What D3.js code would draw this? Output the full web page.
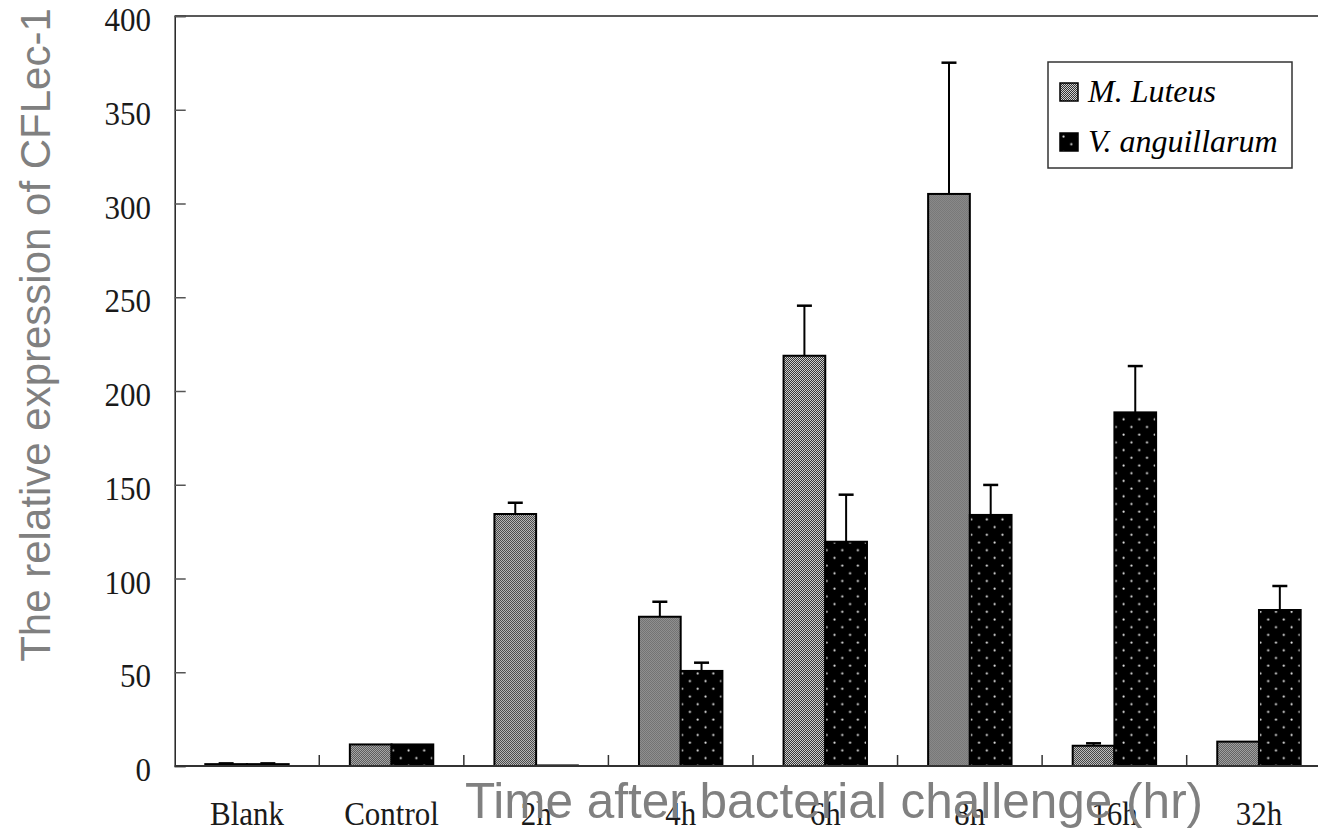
<!DOCTYPE html>
<html>
<head>
<meta charset="utf-8">
<script src="https://cdn.jsdelivr.net/npm/d3@7/dist/d3.min.js"></script>
<style>
  html, body { margin: 0; padding: 0; background: #fff; }
  svg { display: block; }
</style>
</head>
<body>
<svg id="chart" width="1318" height="831"></svg>
<script>
// Relative expression of CFLec-1 after bacterial challenge
const categories = ["Blank", "Control", "2h", "4h", "6h", "8h", "16h", "32h"];
const seriesNames = ["M. Luteus", "V. anguillarum"];
const luteusValues = [1, 11.5, 134.4, 79.6, 218.8, 305.1, 10.8, 13.0];
const luteusErrors = [0.4, 0, 6, 8, 26.7, 70, 1.3, 0];
const anguillarumValues = [1, 11.5, 0.3, 50.7, 119.6, 133.9, 188.6, 83.2];
const anguillarumErrors = [0.4, 0, 0, 4.4, 25.1, 16, 24.7, 12.8];
const yTicks = [0, 50, 100, 150, 200, 250, 300, 350, 400];
const yTitle = "The relative expression of CFLec-1";
const xTitle = "Time after bacterial challenge (hr)";

const W = 1318, H = 831;
const plot = { left: 174.7, top: 16, bottom: 766, step: 144.57 };
plot.right = plot.left + plot.step * categories.length;

const svg = d3.select("#chart");
const defs = svg.append("defs");

// fine grey checker fill
const checker = defs.append("pattern")
  .attr("id", "checker").attr("patternUnits", "userSpaceOnUse")
  .attr("width", 2).attr("height", 2);
checker.append("rect").attr("width", 2).attr("height", 2).attr("fill", "#cfcfcf");
checker.append("rect").attr("width", 1).attr("height", 1).attr("fill", "#333");
checker.append("rect").attr("x", 1).attr("y", 1).attr("width", 1).attr("height", 1).attr("fill", "#333");

// black fill with staggered white dots
const dots = defs.append("pattern")
  .attr("id", "dots").attr("patternUnits", "userSpaceOnUse")
  .attr("width", 15.6).attr("height", 15.4);
dots.append("rect").attr("width", 15.6).attr("height", 15.4).attr("fill", "#000");
dots.append("circle").attr("cx", 3.5).attr("cy", 3.5).attr("r", 1.1).attr("fill", "#e6e6e6");
dots.append("circle").attr("cx", 11.3).attr("cy", 11.2).attr("r", 1.1).attr("fill", "#e6e6e6");

const fills = ["url(#checker)", "url(#dots)"];

const x = d3.scaleBand().domain(categories)
  .range([plot.left, plot.right]).paddingInner(0).paddingOuter(0);
const xSub = d3.scaleBand().domain(seriesNames)
  .range([0, x.bandwidth()]).paddingInner(0).paddingOuter(0.733);
const y = d3.scaleLinear().domain([0, 400]).range([plot.bottom, plot.top]);

const rows = categories.map((c, i) => ({
  cat: c,
  bars: [
    { s: seriesNames[0], v: luteusValues[i], e: luteusErrors[i], k: 0 },
    { s: seriesNames[1], v: anguillarumValues[i], e: anguillarumErrors[i], k: 1 }
  ]
}));

// plot frame top edge
svg.append("line")
  .attr("x1", plot.left).attr("x2", W)
  .attr("y1", plot.top).attr("y2", plot.top)
  .attr("stroke", "#222").attr("stroke-width", 1.5);

// bars
const groups = svg.append("g").selectAll("g").data(rows).join("g")
  .attr("transform", d => `translate(${x(d.cat)},0)`);

groups.selectAll("line.err").data(d => d.bars.filter(b => b.e > 0)).join("line")
  .attr("class", "err")
  .attr("x1", b => xSub(b.s) + xSub.bandwidth() / 2)
  .attr("x2", b => xSub(b.s) + xSub.bandwidth() / 2)
  .attr("y1", b => y(b.v)).attr("y2", b => y(b.v + b.e))
  .attr("stroke", "#000").attr("stroke-width", 2);
groups.selectAll("line.cap").data(d => d.bars.filter(b => b.e > 0)).join("line")
  .attr("class", "cap")
  .attr("x1", b => xSub(b.s) + xSub.bandwidth() / 2 - 7.5)
  .attr("x2", b => xSub(b.s) + xSub.bandwidth() / 2 + 7.5)
  .attr("y1", b => y(b.v + b.e)).attr("y2", b => y(b.v + b.e))
  .attr("stroke", "#000").attr("stroke-width", 2.5);

groups.selectAll("rect").data(d => d.bars).join("rect")
  .attr("x", b => xSub(b.s))
  .attr("y", b => y(b.v))
  .attr("width", xSub.bandwidth())
  .attr("height", b => y(0) - y(b.v))
  .attr("fill", b => fills[b.k])
  .attr("stroke", "#000").attr("stroke-width", 2);

// y axis with inward ticks
const yAxis = svg.append("g")
  .attr("transform", `translate(${plot.left},0)`)
  .call(d3.axisRight(y).tickValues(yTicks).tickSize(11).tickFormat(""));
yAxis.select(".domain").attr("stroke", "#222").attr("stroke-width", 1.5);
yAxis.selectAll(".tick line").attr("stroke", "#555").attr("stroke-width", 1.5);

// tall, narrow serif numerals
svg.append("g").selectAll("text").data(yTicks).join("text")
  .attr("transform", d => `translate(151,${y(d) + 15}) scale(1,1.12)`)
  .attr("text-anchor", "end")
  .attr("font-family", "Liberation Serif, serif")
  .attr("font-size", 31)
  .attr("fill", "#1a1a1a")
  .text(d => d);

// x axis: ticks at group boundaries pointing up
const boundaries = categories.slice(1).map(c => x(c));
const xAxisG = svg.append("g");
xAxisG.append("line")
  .attr("x1", plot.left).attr("x2", W)
  .attr("y1", plot.bottom).attr("y2", plot.bottom)
  .attr("stroke", "#333").attr("stroke-width", 2);
xAxisG.selectAll("line.tk").data(boundaries).join("line")
  .attr("class", "tk")
  .attr("x1", d => d).attr("x2", d => d)
  .attr("y1", plot.bottom).attr("y2", plot.bottom - 11)
  .attr("stroke", "#333").attr("stroke-width", 1.5);

svg.append("g").selectAll("text").data(categories).join("text")
  .attr("transform", d => `translate(${x(d) + x.bandwidth() / 2},825) scale(1,1.1)`)
  .attr("text-anchor", "middle")
  .attr("font-family", "Liberation Serif, serif")
  .attr("font-size", 31)
  .attr("fill", "#1a1a1a")
  .text(d => d);

// legend
const legend = svg.append("g");
legend.append("rect")
  .attr("x", 1048).attr("y", 62).attr("width", 244).attr("height", 106)
  .attr("fill", "#fff").attr("stroke", "#333").attr("stroke-width", 1.5);
const lrow = legend.selectAll("g").data(seriesNames).join("g")
  .attr("transform", (d, i) => `translate(1060,${83 + i * 50})`);
lrow.append("rect")
  .attr("width", 18).attr("height", 18)
  .attr("fill", (d, i) => fills[i])
  .attr("stroke", "#000").attr("stroke-width", 1.5);
lrow.append("text")
  .attr("x", 28).attr("y", 19)
  .attr("font-family", "Liberation Serif, serif")
  .attr("font-style", "italic")
  .attr("font-size", 32)
  .attr("fill", "#000")
  .text(d => d);

// axis titles
svg.append("text")
  .attr("transform", `translate(50,335) rotate(-90)`)
  .attr("text-anchor", "middle")
  .attr("font-family", "Liberation Sans, Arial, sans-serif")
  .attr("font-size", 42)
  .attr("fill", "#808080")
  .text(yTitle);

svg.append("text")
  .attr("x", 834).attr("y", 818)
  .attr("text-anchor", "middle")
  .attr("font-family", "Liberation Sans, Arial, sans-serif")
  .attr("font-size", 49.5)
  .attr("fill", "#808080")
  .text(xTitle);
</script>
</body>
</html>
